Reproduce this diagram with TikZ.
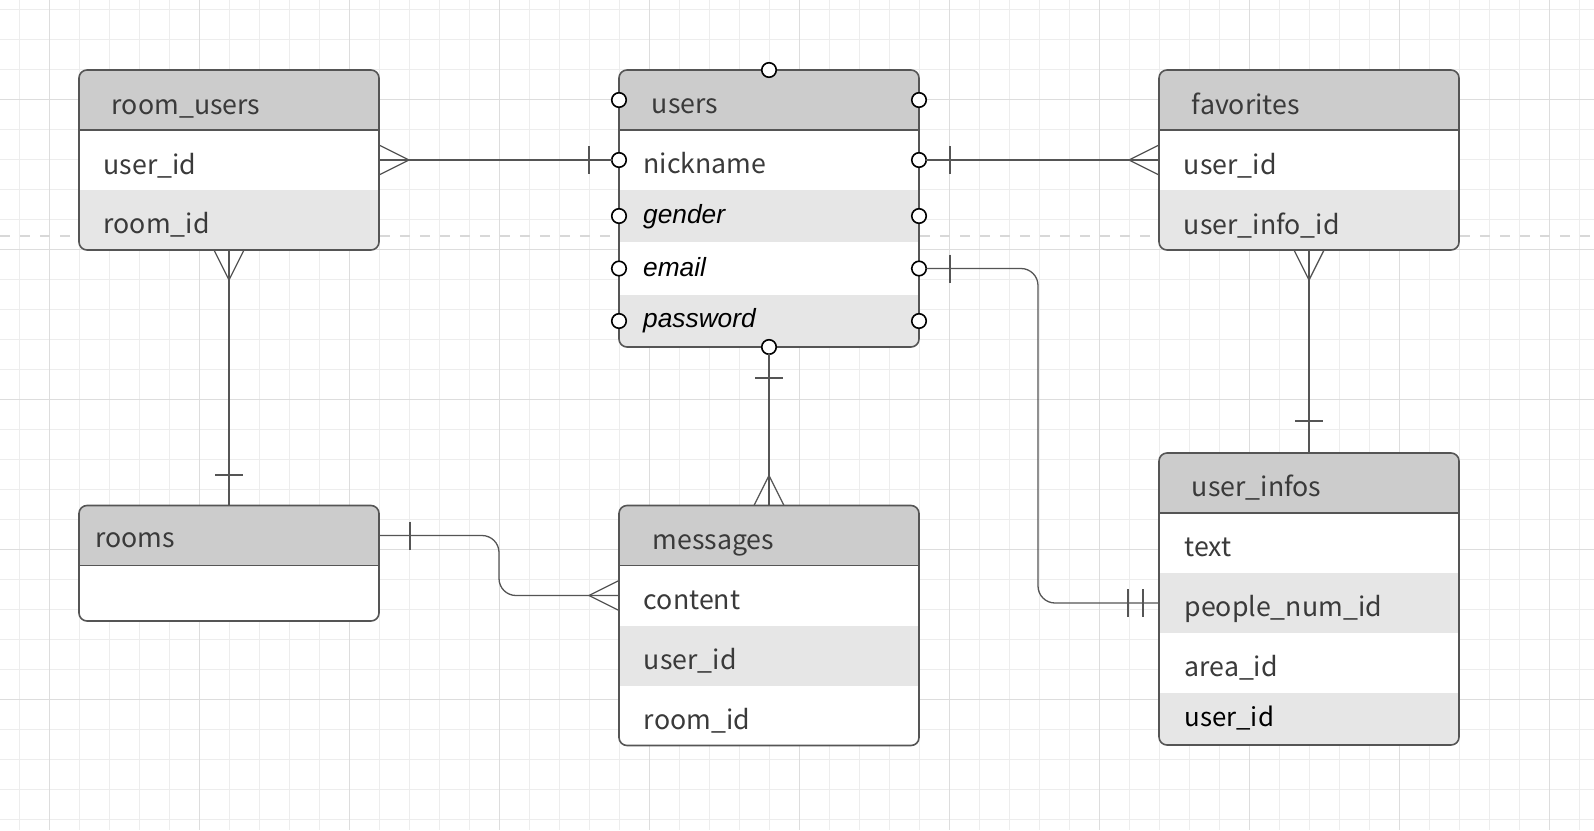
\documentclass[tikz,border=0pt]{standalone}
\usepackage{fontspec}
\newfontfamily\erfont{Noto Sans CJK JP}
\newfontfamily\erital{Liberation Sans}
\usetikzlibrary{calc}

\definecolor{hdrgray}{HTML}{CCCCCC}
\definecolor{rowgray}{HTML}{E6E6E6}
\definecolor{edgegray}{HTML}{555555}
\definecolor{txtgray}{HTML}{3A3A3A}
\definecolor{gridminor}{HTML}{EDEDED}
\definecolor{gridmajor}{HTML}{DDDDDD}
\definecolor{dashgray}{HTML}{D8D8D8}

\tikzset{
  band/.style={rectangle, inner sep=0, outer sep=0, minimum width=300pt, anchor=north west, draw=none},
  tbox/.style={rectangle, draw=edgegray, line width=1.6pt, rounded corners=8pt, inner sep=0, outer sep=0, minimum width=300pt, anchor=north west},
  rule/.style={draw=edgegray, line width=1.6pt},
  ttl/.style={anchor=base west, inner sep=0, text=txtgray, font=\erfont\fontsize{26.7}{30}\selectfont},
  fld/.style={anchor=base west, inner sep=0, text=txtgray, font=\erfont\fontsize{26.7}{30}\selectfont},
  itfld/.style={anchor=base west, inner sep=0, text=black, font=\erital\itshape\fontsize{26.3}{30}\selectfont},
  port/.style={circle, draw=black, fill=white, line width=1.6pt, minimum size=14.5pt, inner sep=0, outer sep=0},
  conn/.style={draw=edgegray, line width=1.3pt},
  crowfoot/.pic={\draw[conn] (0,-15) -- (30,0) -- (0,15);},
  onebar/.pic={\draw[conn] (0,-14) -- (0,14);},
}

\begin{document}
\begin{tikzpicture}[x=1pt,y=-1pt]
\useasboundingbox (0,0) rectangle (1594,830);
\fill[white] (0,0) rectangle (1594,830);

% background grid
\foreach \gx in {0,...,52} \draw[gridminor, line width=1pt] ({19.3+30*\gx},0) -- ({19.3+30*\gx},830);
\foreach \gy in {0,...,27} \draw[gridminor, line width=1pt] (0,{9.3+30*\gy}) -- (1594,{9.3+30*\gy});
\foreach \gx in {0,...,10} \draw[gridmajor, line width=1pt] ({49.3+150*\gx},0) -- ({49.3+150*\gx},830);
\foreach \gy in {0,...,4} \draw[gridmajor, line width=1pt] (0,{99.3+150*\gy}) -- (1594,{99.3+150*\gy});

% page break guide
\draw[dashgray, line width=2.2pt, dash pattern=on 10pt off 10pt] (0,236) -- (1594,236);

% ---------- room_users ----------
\begin{scope}
  \clip[rounded corners=8pt] (79,70) rectangle ++(300,180);
  \node[band, fill=hdrgray, minimum height=60pt] (ru-h) at (79,70) {};
  \node[band, fill=white,   minimum height=60pt] (ru-1) at (79,130) {};
  \node[band, fill=rowgray, minimum height=60pt] (ru-2) at (79,190) {};
\end{scope}
\node[tbox, minimum height=180pt] (ru-box) at (79,70) {};
\draw[rule] (ru-h.south west) -- (ru-h.south east);
\node[ttl] (ru-t) at (111.7,114.5) {room\_users};
\node[fld] (ru-f1) at (103.5,174) {user\_id};
\node[fld] (ru-f2) at (103.5,233.5) {room\_id};

% ---------- users ----------
\begin{scope}
  \clip[rounded corners=8pt] (619,70) rectangle ++(300,277);
  \node[band, fill=hdrgray, minimum height=60pt] (u-h) at (619,70) {};
  \node[band, fill=white,   minimum height=60pt] (u-1) at (619,130) {};
  \node[band, fill=rowgray, minimum height=52pt] (u-2) at (619,190) {};
  \node[band, fill=white,   minimum height=53pt] (u-3) at (619,242) {};
  \node[band, fill=rowgray, minimum height=52pt] (u-4) at (619,295) {};
\end{scope}
\node[tbox, minimum height=277pt] (u-box) at (619,70) {};
\draw[rule] (u-h.south west) -- (u-h.south east);
\node[ttl] (u-t) at (651.7,113) {users};
\node[fld] (u-f1) at (643.3,173.5) {nickname};
\node[itfld] (u-f2) at (643,223.5) {gender};
\node[itfld] (u-f3) at (643,276) {email};
\node[itfld] (u-f4) at (643,327.5) {password};

% ---------- favorites ----------
\begin{scope}
  \clip[rounded corners=8pt] (1159,70) rectangle ++(300,180);
  \node[band, fill=hdrgray, minimum height=60pt] (fav-h) at (1159,70) {};
  \node[band, fill=white,   minimum height=60pt] (fav-1) at (1159,130) {};
  \node[band, fill=rowgray, minimum height=60pt] (fav-2) at (1159,190) {};
\end{scope}
\node[tbox, minimum height=180pt] (fav-box) at (1159,70) {};
\draw[rule] (fav-h.south west) -- (fav-h.south east);
\node[ttl] (fav-t) at (1191.7,114) {favorites};
\node[fld] (fav-f1) at (1183.7,174) {user\_id};
\node[fld] (fav-f2) at (1183.7,234) {user\_info\_id};

% ---------- rooms ----------
\begin{scope}
  \clip[rounded corners=8pt] (79,505.5) rectangle ++(300,115.5);
  \node[band, fill=hdrgray, minimum height=60pt] (rm-h) at (79,505.5) {};
  \node[band, fill=white,   minimum height=55.5pt] (rm-1) at (79,565.5) {};
\end{scope}
\node[tbox, minimum height=115.5pt] (rm-box) at (79,505.5) {};
\draw[rule] (rm-h.south west) -- (rm-h.south east);
\node[ttl] (rm-t) at (95,547) {rooms};

% ---------- messages ----------
\begin{scope}
  \clip[rounded corners=8pt] (619,505.5) rectangle ++(300,240);
  \node[band, fill=hdrgray, minimum height=60pt] (msg-h) at (619,505.5) {};
  \node[band, fill=white,   minimum height=60pt] (msg-1) at (619,565.5) {};
  \node[band, fill=rowgray, minimum height=60pt] (msg-2) at (619,625.5) {};
  \node[band, fill=white,   minimum height=60pt] (msg-3) at (619,685.5) {};
\end{scope}
\node[tbox, minimum height=240pt] (msg-box) at (619,505.5) {};
\draw[rule] (msg-h.south west) -- (msg-h.south east);
\node[ttl] (msg-t) at (652.3,549.5) {messages};
\node[fld] (msg-f1) at (643.7,609.5) {content};
\node[fld] (msg-f2) at (643.7,669.5) {user\_id};
\node[fld] (msg-f3) at (643.7,729) {room\_id};

% ---------- user_infos ----------
\begin{scope}
  \clip[rounded corners=8pt] (1159,453) rectangle ++(300,292);
  \node[band, fill=hdrgray, minimum height=60pt] (ui-h) at (1159,453) {};
  \node[band, fill=white,   minimum height=60pt] (ui-1) at (1159,513) {};
  \node[band, fill=rowgray, minimum height=60pt] (ui-2) at (1159,573) {};
  \node[band, fill=white,   minimum height=60pt] (ui-3) at (1159,633) {};
  \node[band, fill=rowgray, minimum height=52pt] (ui-4) at (1159,693) {};
\end{scope}
\node[tbox, minimum height=292pt] (ui-box) at (1159,453) {};
\draw[rule] (ui-h.south west) -- (ui-h.south east);
\node[ttl] (ui-t) at (1191.7,496.7) {user\_infos};
\node[fld] (ui-f1) at (1184.3,556.7) {text};
\node[fld] (ui-f2) at (1184.3,616) {people\_num\_id};
\node[fld] (ui-f3) at (1184.3,676.7) {area\_id};
\node[fld, text=black, font=\erfont\fontsize{25.8}{30}\selectfont] (ui-f4) at (1184.3,726.7) {user\_id};

% ---------- connection points on users ----------
\foreach \nm/\py in {0/100,1/160,2/216,3/268.5,4/321} {
  \node[port] (u-l\nm) at (619,\py) {};
  \node[port] (u-r\nm) at (919,\py) {};
}
\node[port] (u-top) at (769,70) {};
\node[port] (u-bot) at (769,347) {};

% bend guides for the routed connectors
\coordinate (bendA) at (1038,0);
\coordinate (bendB) at (499,0);

% ---------- relationships ----------
% room_users >--| users
\draw[conn] (ru-1.east) -- (u-l1);
\pic at (ru-1.east) {crowfoot};
\pic at ($(u-l1)+(-30,0)$) {onebar};

% users |--< favorites
\draw[conn] (u-r1) -- (fav-1.west);
\pic at ($(u-r1)+(31,0)$) {onebar};
\pic[rotate=180] at (fav-1.west) {crowfoot};

% users |--|| user_infos
\draw[conn, rounded corners=17pt] (u-r3) -- (bendA |- u-r3) -- (bendA |- ui-2) -- (ui-2.west);
\pic at ($(u-r3)+(31,0)$) {onebar};
\pic at ($(ui-2.west)+(-31,0)$) {onebar};
\pic at ($(ui-2.west)+(-16,0)$) {onebar};

% room_users >--| rooms
\draw[conn] (ru-box.south) -- (rm-box.north);
\pic[rotate=-90] at (ru-box.south) {crowfoot};
\pic[rotate=90] at ($(rm-box.north)+(0,-30.5)$) {onebar};

% users |--< messages
\draw[conn] (u-bot) -- (msg-box.north);
\pic[rotate=90] at ($(u-bot)+(0,31)$) {onebar};
\pic[rotate=90] at (msg-box.north) {crowfoot};

% favorites >--| user_infos
\draw[conn] (fav-box.south) -- (ui-box.north);
\pic[rotate=-90] at (fav-box.south) {crowfoot};
\pic[rotate=90] at ($(ui-box.north)+(0,-32)$) {onebar};

% rooms |--< messages
\draw[conn, rounded corners=17pt] (rm-h.east) -- (bendB |- rm-h) -- (bendB |- msg-1) -- (msg-1.west);
\pic at ($(rm-h.east)+(31,0)$) {onebar};
\pic[rotate=180] at (msg-1.west) {crowfoot};

\end{tikzpicture}
\end{document}
